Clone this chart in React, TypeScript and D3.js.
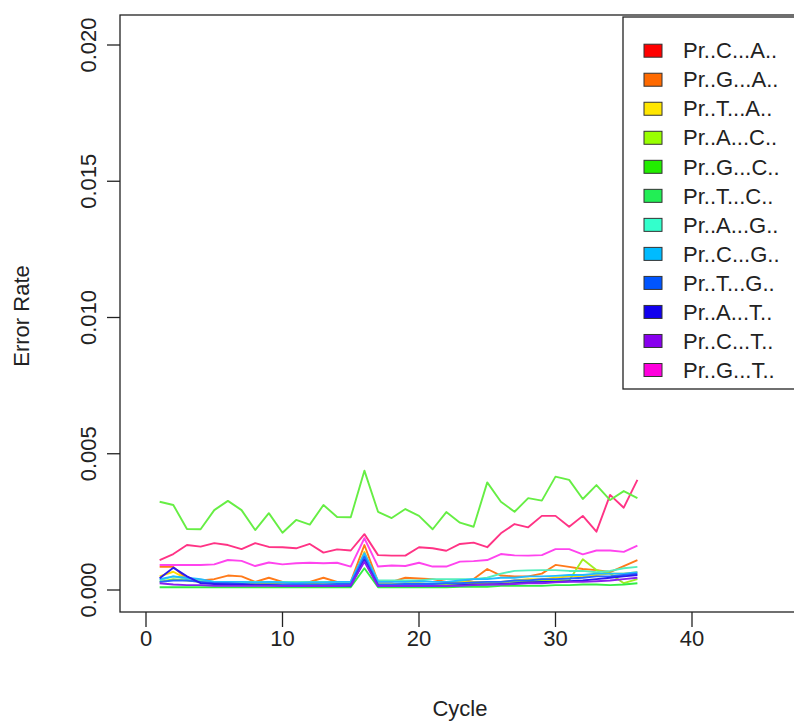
import React from "react";
import * as d3 from "d3";

const seriesNames = [
  "Pr..C...A..", "Pr..G...A..", "Pr..T...A..", "Pr..A...C..",
  "Pr..G...C..", "Pr..T...C..", "Pr..A...G..", "Pr..C...G..",
  "Pr..T...G..", "Pr..A...T..", "Pr..C...T..", "Pr..G...T..",
];
const legendColors = [
  "#ff0000", "#ff6a00", "#ffe600", "#99ff00", "#22ee00", "#22ee55",
  "#33ffcc", "#00bbff", "#0055ff", "#1100ee", "#8800ee", "#ff00dd",
];
const lineColors = [
  "#ff3385", "#ff7a1a", "#ffdd00", "#a0ee22", "#66ee44", "#33ee44",
  "#55eebb", "#22bbff", "#2266ff", "#2a1bee", "#8822ee", "#ff44ee",
];
const cycles = d3.range(1, 37);

const sCA = [0.0011,0.00132,0.00165,0.00159,0.00172,0.00165,0.0015,0.00172,0.00158,0.00157,0.00153,0.00169,0.00137,0.00149,0.00145,0.00205,0.00128,0.00126,0.00126,0.00157,0.00153,0.00144,0.00169,0.00174,0.00157,0.00208,0.00242,0.0023,0.00272,0.00272,0.00232,0.00272,0.00214,0.00349,0.00302,0.00404];
const sGA = [0.00085,0.00085,0.0004,0.00035,0.0004,0.00053,0.0005,0.0003,0.00045,0.0003,0.00028,0.0003,0.00045,0.0003,0.0003,0.00165,0.0003,0.0003,0.00045,0.00042,0.0004,0.0003,0.0003,0.0004,0.00077,0.00053,0.0005,0.0005,0.0006,0.00092,0.00085,0.00077,0.00073,0.00066,0.00088,0.0011];
const sTA = [0.0005,0.00067,0.0004,0.0003,0.0003,0.00025,0.00025,0.00025,0.00025,0.0002,0.0002,0.00025,0.0002,0.0002,0.0002,0.0014,0.0002,0.0002,0.00025,0.00025,0.0002,0.00025,0.0003,0.0003,0.0003,0.0003,0.00035,0.0004,0.0004,0.00045,0.0005,0.0005,0.00055,0.0006,0.0006,0.00065];
const sAC = [0.0003,0.0004,0.00035,0.0003,0.00025,0.00025,0.0002,0.0002,0.0002,0.0002,0.0002,0.00022,0.0002,0.0002,0.0002,0.0012,0.0002,0.0002,0.0002,0.00022,0.0002,0.0002,0.00022,0.00025,0.00025,0.0003,0.0003,0.0003,0.00035,0.00035,0.00035,0.00113,0.00073,0.0006,0.00025,0.0004];
const sGC = [0.00324,0.00312,0.00224,0.00223,0.00293,0.00327,0.00293,0.0022,0.00282,0.0021,0.00257,0.0024,0.00312,0.00268,0.00267,0.00438,0.00287,0.00264,0.00297,0.00272,0.00223,0.00286,0.00247,0.00232,0.00395,0.00324,0.00287,0.00337,0.00328,0.00416,0.00404,0.00334,0.00385,0.0033,0.00363,0.00337];
const sTC = [0.0001,0.0001,0.0001,0.0001,0.0001,0.0001,0.0001,0.0001,0.0001,0.0001,0.0001,0.0001,0.0001,0.0001,0.0001,0.0008,0.0001,0.0001,0.0001,0.0001,0.0001,0.0001,0.00012,0.00012,0.00012,0.00015,0.00015,0.00015,0.00015,0.00018,0.00018,0.0002,0.0002,0.00018,0.0002,0.00025];
const sAG = [0.00035,0.0005,0.0004,0.00035,0.0003,0.0003,0.0003,0.0003,0.0003,0.0003,0.0003,0.0003,0.0003,0.0003,0.0003,0.0013,0.00035,0.00035,0.00035,0.00035,0.0004,0.0004,0.0004,0.0004,0.00045,0.0006,0.0007,0.00072,0.00073,0.00073,0.0007,0.0007,0.00065,0.0007,0.0008,0.00085];
const sCG = [0.0004,0.0005,0.00045,0.0004,0.0003,0.0003,0.0003,0.00028,0.0003,0.00028,0.00025,0.00028,0.00028,0.0003,0.0003,0.00135,0.0003,0.0003,0.0003,0.00032,0.0003,0.0003,0.00035,0.0004,0.0004,0.00045,0.00045,0.0005,0.0005,0.00052,0.00055,0.00055,0.0006,0.0006,0.0006,0.00065];
const sTG = [0.0003,0.00035,0.00035,0.0003,0.00025,0.00025,0.00022,0.0002,0.0002,0.0002,0.0002,0.0002,0.0002,0.00022,0.00022,0.00122,0.0002,0.0002,0.00022,0.00022,0.00022,0.00025,0.00025,0.00028,0.0003,0.0003,0.00035,0.00035,0.0004,0.0004,0.00042,0.00045,0.0005,0.0005,0.00055,0.0006];
const sAT = [0.00043,0.00082,0.0005,0.00025,0.00022,0.0002,0.0002,0.00018,0.00018,0.00015,0.00015,0.00015,0.00015,0.00015,0.00015,0.0011,0.00015,0.00015,0.00015,0.00015,0.00015,0.00015,0.00018,0.0002,0.0002,0.00022,0.00025,0.00028,0.0003,0.0003,0.00032,0.00035,0.0004,0.00045,0.0005,0.00055];
const sCT = [0.00025,0.0002,0.00018,0.00018,0.00015,0.00015,0.00015,0.00015,0.00015,0.00015,0.00015,0.00015,0.00015,0.00015,0.00018,0.00104,0.00015,0.00015,0.00015,0.00015,0.00015,0.00015,0.00015,0.00018,0.0002,0.0002,0.00022,0.00025,0.00025,0.00028,0.0003,0.0003,0.00032,0.00035,0.0004,0.00045];
const sGT = [0.00092,0.00092,0.00092,0.00092,0.00094,0.0011,0.00107,0.00088,0.00101,0.00094,0.00098,0.001,0.00098,0.001,0.00086,0.0019,0.00086,0.0009,0.00088,0.001,0.00086,0.00086,0.00104,0.00106,0.0011,0.00132,0.00127,0.00126,0.00128,0.0015,0.0015,0.00131,0.00145,0.00145,0.0014,0.00163];

const seriesValues = [sCA, sGA, sTA, sAC, sGC, sTC, sAG, sCG, sTG, sAT, sCT, sGT];

const xTicks = [0, 10, 20, 30, 40];
const yTicks = [0, 0.005, 0.01, 0.015, 0.02];
const yTickLabels = ["0.000", "0.005", "0.010", "0.015", "0.020"];

const W = 794;
const H = 723;
const FONT = "'Liberation Sans', Arial, Helvetica, sans-serif";
const FS = 22;

export default function App() {
  const x = d3.scaleLinear().domain([0, 40]).range([146, 692]);
  const y = d3.scaleLinear().domain([0, 0.02]).range([590, 45]);
  const box = { left: 120, top: 15, right: 805, bottom: 612 };
  const line = d3
    .line<number>()
    .x((_, i) => x(cycles[i]))
    .y((d) => y(d));

  const leg = { left: 623, top: 17, right: 805, bottom: 389 };
  const rowY = d3.scaleLinear().domain([0, 11]).range([50.7, 370]);

  return (
    <svg
      width={W}
      height={H}
      style={{ position: "absolute", left: 0, top: 0, background: "#fff" }}
      fontFamily={FONT}
    >
      <rect x={0} y={0} width={W} height={H} fill="#fff" />
      {seriesValues.map((vals, k) => (
        <path
          key={k}
          d={line(vals) || ""}
          fill="none"
          stroke={lineColors[k]}
          strokeWidth={1.9}
          strokeLinejoin="round"
        />
      ))}
      <rect
        x={box.left}
        y={box.top}
        width={box.right - box.left}
        height={box.bottom - box.top}
        fill="none"
        stroke="#222"
        strokeWidth={1.3}
      />
      {xTicks.map((t) => (
        <g key={"x" + t}>
          <line x1={x(t)} x2={x(t)} y1={box.bottom} y2={box.bottom + 15} stroke="#222" strokeWidth={1.3} />
          <text x={x(t)} y={646} textAnchor="middle" fontSize={FS} fill="#222">
            {t}
          </text>
        </g>
      ))}
      {yTicks.map((t, i) => (
        <g key={"y" + t}>
          <line x1={box.left - 13} x2={box.left} y1={y(t)} y2={y(t)} stroke="#222" strokeWidth={1.3} />
          <text
            transform={`translate(96,${y(t)}) rotate(-90)`}
            textAnchor="middle"
            fontSize={FS}
            fill="#222"
          >
            {yTickLabels[i]}
          </text>
        </g>
      ))}
      <text x={460} y={716} textAnchor="middle" fontSize={FS} fill="#222">
        Cycle
      </text>
      <text transform="translate(29,316) rotate(-90)" textAnchor="middle" fontSize={FS} fill="#222">
        Error Rate
      </text>
      <rect
        x={leg.left}
        y={leg.top}
        width={leg.right - leg.left}
        height={leg.bottom - leg.top}
        fill="#fff"
        stroke="#222"
        strokeWidth={1.3}
      />
      {seriesNames.map((name, k) => (
        <g key={name}>
          <rect
            x={644}
            y={rowY(k) - 6.5}
            width={18}
            height={13}
            fill={legendColors[k]}
            stroke="#333"
            strokeWidth={1}
          />
          <text x={683} y={rowY(k)} dy="0.35em" fontSize={FS} fill="#222">
            {name}
          </text>
        </g>
      ))}
    </svg>
  );
}
